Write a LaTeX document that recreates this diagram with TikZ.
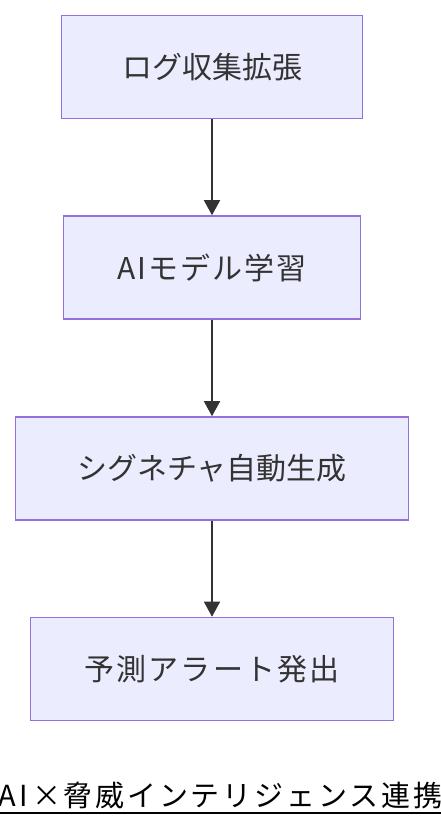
\documentclass[tikz,border=0pt]{standalone}
\usepackage{fontspec}
\newfontfamily\jp{Noto Sans CJK JP}
\newfontfamily\jpwide[LetterSpace=7]{Noto Sans CJK JP}
\newfontfamily\jptitle[LetterSpace=10]{Noto Sans CJK JP}
\usetikzlibrary{arrows.meta}
\definecolor{nodefill}{HTML}{ECECFF}
\definecolor{nodeline}{HTML}{9370DB}
\definecolor{txt}{HTML}{333333}
\tikzset{
  flowbox/.style={draw=nodeline, fill=nodefill, line width=1.6pt, inner sep=0pt,
    minimum height=103pt, text=txt, font=\jp\fontsize{30pt}{36pt}\selectfont},
  flowarrow/.style={draw=txt, line width=1.6pt, -{Triangle[length=15pt,width=16pt]}},
}
\begin{document}
\begin{tikzpicture}[x=1pt,y=1pt]
\useasboundingbox (0,0) rectangle (440,-828);
\fill[white] (0,0) rectangle (440,-828);
\node[flowbox, minimum width=301pt] (b1) at (212,-67) {ログ収集拡張};
\node[flowbox, minimum width=297pt, font=\jpwide\fontsize{30pt}{36pt}\selectfont] (b2) at (212,-267.5) {AIモデル学習};
\node[flowbox, minimum width=393pt] (b3) at (212,-468.5) {シグネチャ自動生成};
\node[flowbox, minimum width=363pt, font=\jpwide\fontsize{30pt}{36pt}\selectfont] (b4) at (212,-669) {予測アラート発出};
\draw[flowarrow] (b1.south) -- (b2.north);
\draw[flowarrow] (b2.south) -- (b3.north);
\draw[flowarrow] (b3.south) -- (b4.north);
\node[inner sep=0pt, anchor=base, text=black, font=\jptitle\fontsize{29pt}{34pt}\selectfont] (title) at (221,-806)
  {\makebox[16pt]{A}\makebox[16pt]{I}\makebox[32pt]{×}脅威インテリジェンス連携};
\draw[black, line width=2pt] ([yshift=-7pt]title.base west) -- ([yshift=-7pt]title.base east);
\end{tikzpicture}
\end{document}
